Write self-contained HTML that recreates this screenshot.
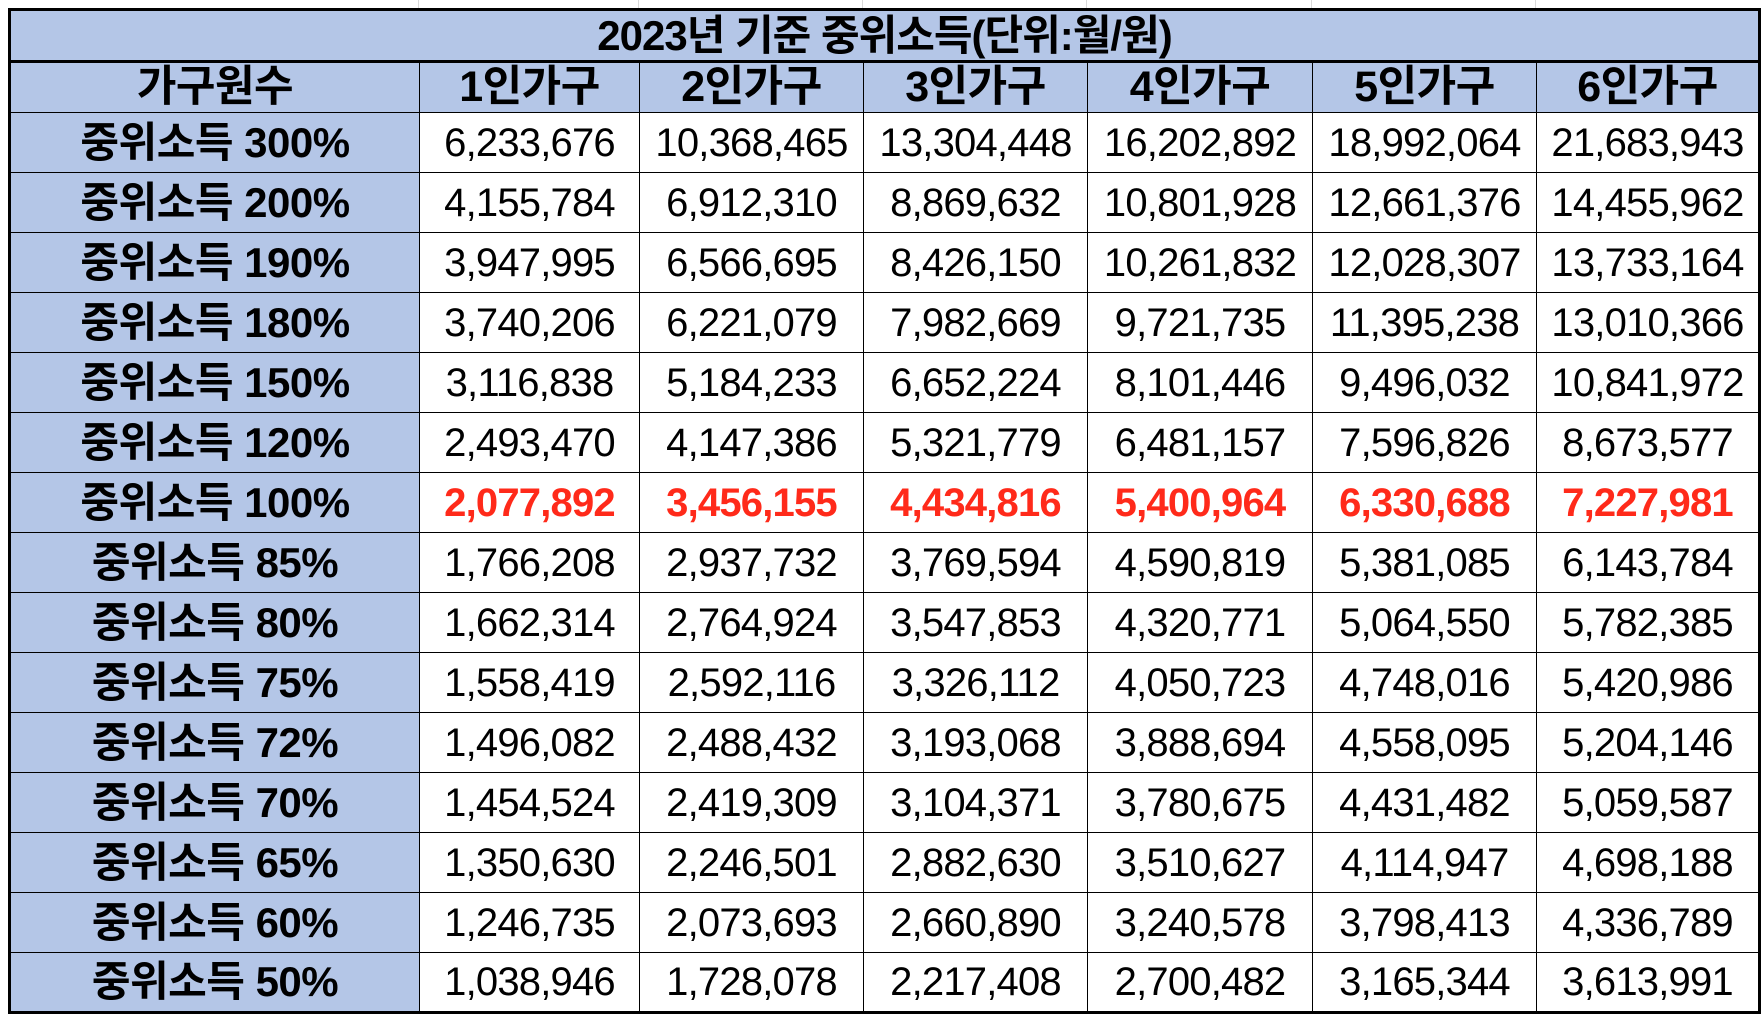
<!DOCTYPE html>
<html><head><meta charset="utf-8">
<style>
html,body{margin:0;padding:0;background:#fff;width:1764px;height:1018px;overflow:hidden}
body{position:relative;font-family:"Liberation Sans","Noto Sans CJK KR","NanumGothic",sans-serif}
.grid{position:absolute;top:0;height:8px;border-left:1px solid #d9d9d9}
table{position:absolute;left:8px;top:8px;border-collapse:collapse;table-layout:fixed;border:3px solid #000}
td{border:1.5px solid #000;padding:0;text-align:center;color:#000;white-space:nowrap;overflow:hidden;line-height:1;box-sizing:border-box}
.title{background:#b4c6e7;height:52px;font-weight:bold;font-size:42px;border-bottom:3px solid #000;letter-spacing:-1px}
.hd{background:#b4c6e7;height:51px;font-weight:bold;font-size:43px;letter-spacing:-0.5px}
.lab{background:#b4c6e7;font-weight:bold;font-size:42px;height:60px;letter-spacing:-0.5px}
.num{font-size:40px;height:60px;letter-spacing:-0.8px}
.red{color:#ff2a1a;font-weight:bold}
</style></head><body>
<div class="grid" style="left:418px"></div>
<div class="grid" style="left:638px"></div>
<div class="grid" style="left:862px"></div>
<div class="grid" style="left:1086px"></div>
<div class="grid" style="left:1311px"></div>
<div class="grid" style="left:1535px"></div>
<table id="t">
<colgroup><col style="width:410px"><col style="width:220px"><col style="width:224px"><col style="width:224px"><col style="width:225px"><col style="width:224px"><col style="width:223px"></colgroup>
<tr><td colspan="7" class="title">2023년 기준 중위소득(단위:월/원)</td></tr>
</table>
<script>
const headers=["가구원수","1인가구","2인가구","3인가구","4인가구","5인가구","6인가구"];
const rowLabels=["중위소득 300%","중위소득 200%","중위소득 190%","중위소득 180%","중위소득 150%","중위소득 120%","중위소득 100%","중위소득 85%","중위소득 80%","중위소득 75%","중위소득 72%","중위소득 70%","중위소득 65%","중위소득 60%","중위소득 50%"];
const values=[
["6,233,676","10,368,465","13,304,448","16,202,892","18,992,064","21,683,943"],
["4,155,784","6,912,310","8,869,632","10,801,928","12,661,376","14,455,962"],
["3,947,995","6,566,695","8,426,150","10,261,832","12,028,307","13,733,164"],
["3,740,206","6,221,079","7,982,669","9,721,735","11,395,238","13,010,366"],
["3,116,838","5,184,233","6,652,224","8,101,446","9,496,032","10,841,972"],
["2,493,470","4,147,386","5,321,779","6,481,157","7,596,826","8,673,577"],
["2,077,892","3,456,155","4,434,816","5,400,964","6,330,688","7,227,981"],
["1,766,208","2,937,732","3,769,594","4,590,819","5,381,085","6,143,784"],
["1,662,314","2,764,924","3,547,853","4,320,771","5,064,550","5,782,385"],
["1,558,419","2,592,116","3,326,112","4,050,723","4,748,016","5,420,986"],
["1,496,082","2,488,432","3,193,068","3,888,694","4,558,095","5,204,146"],
["1,454,524","2,419,309","3,104,371","3,780,675","4,431,482","5,059,587"],
["1,350,630","2,246,501","2,882,630","3,510,627","4,114,947","4,698,188"],
["1,246,735","2,073,693","2,660,890","3,240,578","3,798,413","4,336,789"],
["1,038,946","1,728,078","2,217,408","2,700,482","3,165,344","3,613,991"]];
const highlightRow=6;
const t=document.getElementById('t');
const hr=t.insertRow();


headers.forEach(h=>{const c=hr.insertCell();c.className='hd';c.textContent=h;

});
rowLabels.forEach((lab,i)=>{
  const r=t.insertRow();
  
  
  const lc=r.insertCell();lc.className='lab';lc.textContent=lab;
  
  
  values[i].forEach(v=>{const c=r.insertCell();c.className='num'+(i===highlightRow?' red':'');c.textContent=v;
    
    });
});
</script>
</body></html>
